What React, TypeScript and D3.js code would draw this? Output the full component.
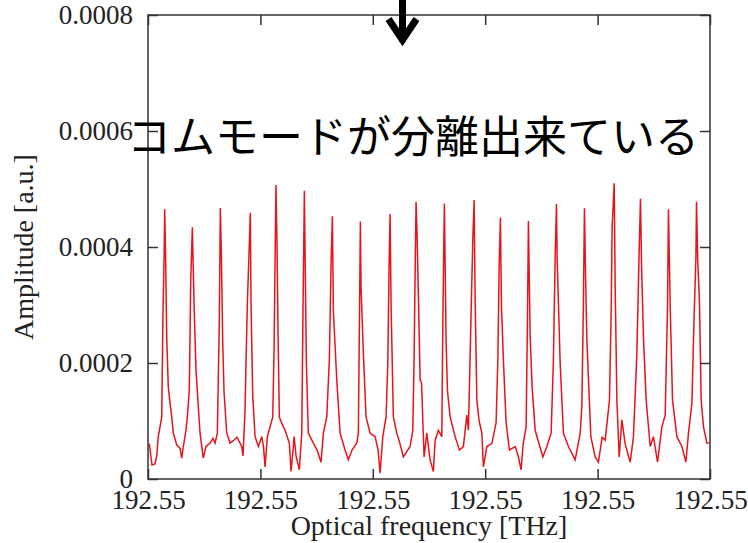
import React from "react";
import { select, scaleLinear, axisBottom, axisLeft, axisTop, axisRight, line } from "d3";

// frequency offset from 192.5496 THz, in MHz
const freqOffsetMHz = [
  2.3, 7.1, 12.5, 15.5, 18.3, 21.4, 24.4, 26.7, 28.8, 29.7, 31.2, 33.3, 36.1, 39.2, 42.2, 45.0,
  51.1, 57.0, 60.0, 62.8, 67.6, 70.0, 73.5, 76.0, 78.9, 81.9, 85.4, 89.5, 92.6, 98.4, 103.2,
  110.4, 115.7, 119.3, 123.4, 126.9, 128.7, 130.5, 133.0, 135.3, 140.1, 146.0, 151.8, 158.4,
  166.8, 169.1, 172.7, 174.4, 176.8, 179.8, 182.1, 183.3, 186.4, 190.5, 196.3, 202.4, 205.6,
  208.3, 212.4, 217.2, 222.0, 224.3, 226.1, 227.8, 229.6, 231.4, 233.7, 238.5, 243.9, 251.5,
  254.5, 258.1, 259.9, 263.4, 269.3, 273.6, 275.9, 278.2, 279.5, 281.8, 285.3, 294.2, 300.8,
  307.9, 312.0, 318.1, 322.7, 325.7, 328.1, 329.8, 335.9, 341.8, 350.7, 356.5, 363.1, 371.5,
  374.3, 376.1, 377.9, 379.1, 383.2, 388.0, 395.2, 404.1, 409.4, 413.0, 417.8, 423.6, 426.7,
  429.0, 430.8, 432.5, 436.6, 442.7, 448.6, 454.4, 466.4, 471.2, 473.5, 475.8, 477.0, 478.8,
  481.8, 484.2, 486.8, 490.0, 491.3, 496.1, 502.0, 507.8, 510.9, 516.7, 522.8, 524.6, 526.2,
  527.4, 530.4, 532.8, 537.6, 546.5, 554.1, 561.2, 567.3, 570.1, 571.9, 574.9, 578.0, 580.3,
  582.1, 585.1, 589.2, 594.0, 596.8, 602.9, 611.8, 619.4, 622.5, 624.8, 627.1, 628.9, 632.4,
  637.2, 643.1, 653.3, 658.6, 663.9, 667.5, 672.8, 675.2, 676.9, 680.0, 683.5, 688.9, 696.0,
  702.6, 709.7, 717.3, 721.4, 724.5, 726.8, 728.0, 733.4, 739.2, 748.1, 760.1, 769.0, 772.0,
  774.8, 776.6, 778.8, 780.9, 788.0, 795.7, 801.5, 808.1, 813.5, 821.1, 824.1, 825.9, 829.5,
  831.3, 834.3, 838.4, 843.2, 849.1, 858.0, 863.8, 869.9, 874.0, 876.3, 878.4, 881.6, 886.4,
  893.6, 899.4, 906.6, 914.4, 920.3, 924.4, 926.1, 929.2, 933.3, 941.1, 950.0, 957.1, 961.7,
  967.8, 971.9, 974.9, 976.0, 978.1, 981.3, 984.3, 988.4, 994.5, 998.0,
];

// amplitude in units of 1e-6 a.u.
const amplitudeMicro = [
  61, 24, 26, 40, 73, 90, 107, 288, 392, 465, 392, 245, 159, 131, 107, 79,
  59, 53, 36, 56, 84, 107, 153, 340, 434, 303, 188, 125, 79, 36, 56,
  62, 70, 62, 79, 274, 467, 390, 234, 150, 79, 62, 66, 72,
  56, 40, 119, 200, 303, 390, 459, 303, 142, 73, 56, 73, 55,
  21, 73, 90, 107, 222, 377, 507, 400, 250, 107, 95, 84, 62,
  13, 50, 73, 40, 16, 79, 299, 497, 391, 200, 79, 62, 50,
  29, 79, 107, 206, 369, 453, 290, 171, 79, 50, 33, 50, 62,
  79, 263, 444, 330, 217, 107, 79, 73, 50, 10, 73, 107, 200,
  371, 457, 300, 107, 79, 60, 38, 56, 84, 211, 392, 478, 420,
  286, 171, 165, 73, 38, 79, 33, 13, 67, 84, 73, 269, 396,
  475, 240, 153, 107, 73, 50, 56, 110, 84, 159, 286, 415, 481,
  309, 136, 100, 79, 21, 56, 61, 97, 205, 366, 451, 300, 205,
  97, 50, 56, 40, 16, 60, 90, 274, 445, 245, 159, 84, 60,
  38, 56, 79, 205, 383, 474, 380, 200, 79, 56, 33, 79, 125,
  309, 467, 340, 240, 73, 38, 29, 72, 67, 136, 286, 435, 510,
  331, 136, 38, 102, 60, 29, 73, 217, 395, 483, 360, 245, 136,
  56, 73, 29, 90, 110, 297, 465, 297, 136, 73, 56, 29, 79,
  131, 286, 379, 478, 380, 303, 136, 90, 62, 62,
];

const freqStartTHz = 192.5496;
const freqEndTHz = 192.5506;
const xTickValues = [192.5496, 192.5498, 192.55, 192.5502, 192.5504, 192.5506];
const yTickValues = [0, 0.0002, 0.0004, 0.0006, 0.0008];

const xLabel = "Optical frequency [THz]";
const yLabel = "Amplitude [a.u.]";
const note = "コムモードが分離出来ている";

const W = 748;
const H = 543;
const margin = { left: 148, right: 38, top: 15, bottom: 64 };

export default function App() {
  const svgRef = React.useRef<SVGSVGElement>(null);

  React.useEffect(() => {
    const svg = select(svgRef.current);
    svg.selectAll("*").remove();

    const x0 = margin.left;
    const x1 = W - margin.right;
    const y0 = H - margin.bottom;
    const y1 = margin.top;

    const xScale = scaleLinear().domain([freqStartTHz, freqEndTHz]).range([x0, x1]);
    const yScale = scaleLinear().domain([0, 0.0008]).range([y0, y1]);

    const points = freqOffsetMHz.map((f, i) => ({
      f: freqStartTHz + f * 1e-6,
      a: amplitudeMicro[i] * 1e-6,
    }));

    const font = "'Liberation Serif', 'Times New Roman', serif";
    const axisColor = "#333";

    // data line
    const lineGen = line<{ f: number; a: number }>()
      .x((d) => xScale(d.f))
      .y((d) => yScale(d.a));
    svg
      .append("path")
      .datum(points)
      .attr("fill", "none")
      .attr("stroke", "#e8141b")
      .attr("stroke-width", 1.5)
      .attr("stroke-linejoin", "miter")
      .attr("d", lineGen);

    // axes (ticks point inward, mirrored on top/right)
    const styleAxis = (g: any) => {
      g.select(".domain").remove();
      g.selectAll("line").attr("stroke", axisColor).attr("stroke-width", 1.5);
      g.selectAll("text")
        .attr("font-family", font)
        .attr("font-size", 27)
        .attr("fill", "#222");
    };

    svg
      .append("g")
      .attr("transform", `translate(0,${y0})`)
      .call(
        axisBottom(xScale)
          .tickValues(xTickValues)
          .tickSizeInner(-10)
          .tickSizeOuter(0)
          .tickPadding(11)
          .tickFormat((d: any) => (+d).toFixed(2))
      )
      .call(styleAxis);

    svg
      .append("g")
      .attr("transform", `translate(0,${y1})`)
      .call(axisTop(xScale).tickValues(xTickValues).tickSizeInner(-10).tickSizeOuter(0).tickFormat(() => ""))
      .call(styleAxis);

    svg
      .append("g")
      .attr("transform", `translate(${x0},0)`)
      .call(
        axisLeft(yScale)
          .tickValues(yTickValues)
          .tickSizeInner(-10)
          .tickSizeOuter(0)
          .tickPadding(15)
          .tickFormat((d: any) => (+d === 0 ? "0" : (+d).toFixed(4)))
      )
      .call(styleAxis);

    svg
      .append("g")
      .attr("transform", `translate(${x1},0)`)
      .call(axisRight(yScale).tickValues(yTickValues).tickSizeInner(-10).tickSizeOuter(0).tickFormat(() => ""))
      .call(styleAxis);

    // frame
    svg
      .append("rect")
      .attr("x", x0)
      .attr("y", y1)
      .attr("width", x1 - x0)
      .attr("height", y0 - y1)
      .attr("fill", "none")
      .attr("stroke", axisColor)
      .attr("stroke-width", 1.5);

    // axis titles
    svg
      .append("text")
      .attr("x", (x0 + x1) / 2)
      .attr("y", 535)
      .attr("text-anchor", "middle")
      .attr("font-family", font)
      .attr("font-size", 28)
      .attr("fill", "#222")
      .text(xLabel);

    svg
      .append("text")
      .attr("transform", `translate(33,${(y0 + y1) / 2}) rotate(-90)`)
      .attr("text-anchor", "middle")
      .attr("font-family", font)
      .attr("font-size", 28)
      .attr("fill", "#222")
      .text(yLabel);

    // annotation
    svg
      .append("text")
      .attr("x", 127)
      .attr("y", 153)
      .attr("font-family", "'Noto Sans CJK JP', sans-serif")
      .attr("font-size", 44)
      .attr("fill", "#000")
      .text(note);

    // arrow pointing down at the top
    const arrow = svg.append("g").attr("stroke", "#000").attr("stroke-width", 7).attr("fill", "none");
    arrow.append("line").attr("x1", 402.5).attr("y1", -5).attr("x2", 402.5).attr("y2", 42);
    arrow
      .append("path")
      .attr("stroke-linejoin", "miter")
      .attr("d", "M388.5,19 L402.5,40 L416.5,19");
  }, []);

  return (
    <svg
      ref={svgRef}
      width={W}
      height={H}
      style={{ position: "absolute", left: 0, top: 0, background: "#fff" }}
    />
  );
}
